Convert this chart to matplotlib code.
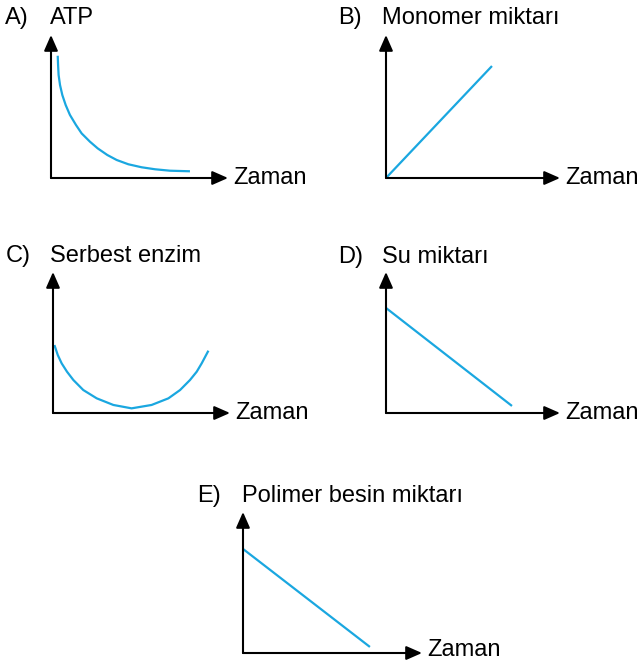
import matplotlib
matplotlib.use('Agg')
import matplotlib.pyplot as plt

plt.rcParams['font.family'] = ['Liberation Sans', 'DejaVu Sans']

# curve data, in arbitrary units (0-10 on both axes)
atp_x = [0.38, 0.40, 0.43, 0.51, 0.64, 0.83, 1.07, 1.41, 1.73, 2.20, 2.64, 3.18,
         3.71, 4.37, 5.12, 5.88, 6.72, 7.85]
atp_y = [8.55, 7.90, 7.20, 6.50, 5.80, 5.10, 4.41, 3.71, 3.12, 2.54, 2.07, 1.61,
         1.26, 0.96, 0.75, 0.61, 0.51, 0.47]

monomer_x = [0.0, 6.09]
monomer_y = [0.0, 7.83]

enzim_x = [0.08, 0.27, 0.49, 0.79, 1.15, 1.71, 2.47, 3.41, 4.44, 5.57, 6.52, 7.18,
           7.74, 8.12, 8.40, 8.78]
enzim_y = [4.82, 4.11, 3.52, 2.93, 2.34, 1.63, 1.04, 0.57, 0.33, 0.57, 1.04, 1.63,
           2.34, 2.93, 3.52, 4.42]

su_x = [0.0, 7.24]
su_y = [7.45, 0.50]

polimer_x = [0.0, 7.09]
polimer_y = [7.38, 0.43]

letters = ['A)', 'B)', 'C)', 'D)', 'E)']
titles = ['ATP', 'Monomer miktarı', 'Serbest enzim', 'Su miktarı', 'Polimer besin miktarı']
xlabel = 'Zaman'

W, H = 644, 661
fig = plt.figure(figsize=(W / 100, H / 100), dpi=100)

# background axes in pixel units, only for the text
bg = fig.add_axes([0, 0, 1, 1])
bg.set_xlim(0, W)
bg.set_ylim(H, 0)
bg.axis('off')

# panel boxes: left, bottom, right, top (pixels), letter x, title x, title y
panels = [
    (51, 178, 228, 35, 5, 50, 18),
    (386, 178, 560, 35, 338, 382, 18),
    (53, 413, 230, 272, 6, 50, 256),
    (386, 413, 560, 272, 338, 382, 257),
    (243, 653, 422, 512, 197, 242, 496),
]
series = [(atp_x, atp_y), (monomer_x, monomer_y), (enzim_x, enzim_y),
          (su_x, su_y), (polimer_x, polimer_y)]

line_color = '#1AA7E0'

for i, (l, b, r, t, lx, tx, ty) in enumerate(panels):
    ax = fig.add_axes([l / W, 1 - b / H, (r - l) / W, (b - t) / H])
    ax.set_xlim(0, 10)
    ax.set_ylim(0, 10)
    ax.axis('off')
    xs, ys = series[i]
    ax.plot(xs, ys, color=line_color, lw=1.6, clip_on=False,
            solid_capstyle='butt', solid_joinstyle='round')
    arrow = dict(arrowstyle='-|>,head_length=0.5,head_width=0.22', mutation_scale=19,
                 lw=1.5, color='black', shrinkA=0, shrinkB=0)
    ax.annotate('', xy=(1, 0), xytext=(0, 0), xycoords='axes fraction',
                arrowprops=arrow, annotation_clip=False)
    ax.annotate('', xy=(0, 1), xytext=(0, 0), xycoords='axes fraction',
                arrowprops=arrow, annotation_clip=False)

    bg.text(lx, ty, letters[i], fontsize=17, ha='left', va='center')
    bg.text(tx, ty, titles[i], fontsize=17, ha='left', va='center')
    bg.text(r + 5, min(b, 650), xlabel, fontsize=17, ha='left', va='center')

plt.savefig('out.png', dpi=100)
